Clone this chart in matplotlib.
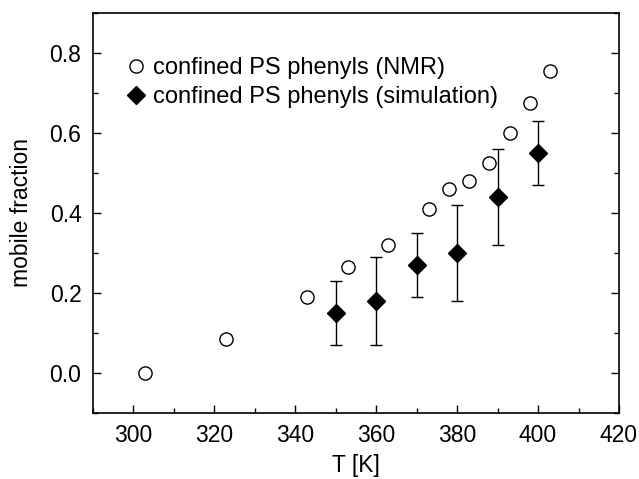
import matplotlib
matplotlib.use("Agg")
import matplotlib.pyplot as plt
from matplotlib.ticker import MultipleLocator
from matplotlib.lines import Line2D

plt.rcParams['font.family'] = ['Liberation Sans', 'DejaVu Sans']

nmr_T = [303, 323, 343, 353, 363, 373, 378, 383, 388, 393, 398, 403]
nmr_frac = [0.0, 0.085, 0.19, 0.265, 0.32, 0.41, 0.46, 0.48, 0.525, 0.60, 0.675, 0.755]

sim_T = [350, 360, 370, 380, 390, 400]
sim_frac = [0.15, 0.18, 0.27, 0.30, 0.44, 0.55]
sim_low = [0.07, 0.07, 0.19, 0.18, 0.32, 0.47]
sim_high = [0.23, 0.29, 0.35, 0.42, 0.56, 0.63]

fig = plt.figure(figsize=(6.39, 4.79), dpi=100)
ax = fig.add_axes([0.1448, 0.1378, 0.8239, 0.8351])

ax.plot(nmr_T, nmr_frac, linestyle='none', marker='o', markersize=9.5,
        markerfacecolor='white', markeredgecolor='black', markeredgewidth=1.0)
yerr = [[f - l for f, l in zip(sim_frac, sim_low)], [h - f for f, h in zip(sim_frac, sim_high)]]
ax.errorbar(sim_T, sim_frac, yerr=yerr, linestyle='none', marker='D', markersize=9,
            color='black', ecolor='black', elinewidth=1.0, capsize=4, capthick=1.0)

ax.set_xlim(290, 420)
ax.set_ylim(-0.1, 0.9)
ax.xaxis.set_major_locator(MultipleLocator(20))
ax.xaxis.set_minor_locator(MultipleLocator(10))
ax.yaxis.set_major_locator(MultipleLocator(0.2))
ax.yaxis.set_minor_locator(MultipleLocator(0.1))
ax.yaxis.set_major_formatter(plt.FormatStrFormatter('%.1f'))
ax.tick_params(which='both', direction='in', top=False, right=True, labelsize=16.5, width=1.0)
ax.tick_params(which='major', length=6, pad=8)
ax.tick_params(which='minor', length=3.5)
for s in ax.spines.values():
    s.set_linewidth(1.2)

ax.set_xlabel('T [K]', fontsize=16.5, labelpad=5)
ax.set_ylabel('mobile fraction', fontsize=16.5, labelpad=12)

h1 = Line2D([], [], linestyle='none', marker='o', markersize=9.5,
            markerfacecolor='white', markeredgecolor='black', markeredgewidth=1.0)
h2 = Line2D([], [], linestyle='none', marker='D', markersize=9, color='black')
ax.legend([h1, h2], ['confined PS phenyls (NMR)', 'confined PS phenyls (simulation)'],
          loc='upper left', bbox_to_anchor=(0.043, 0.913), frameon=False,
          fontsize=17, handletextpad=0.2, labelspacing=0.28, handlelength=1.0,
          borderaxespad=0.0, numpoints=1)

fig.savefig('out.png', dpi=100)
